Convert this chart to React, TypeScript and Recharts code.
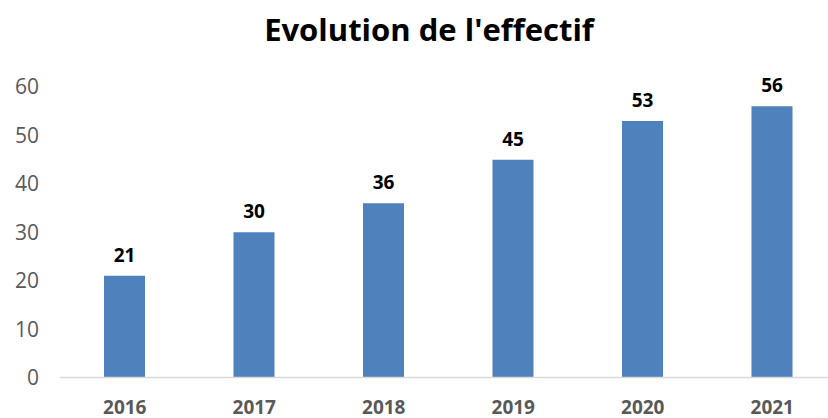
import { BarChart, Bar, XAxis, YAxis, LabelList } from "recharts";

const years = ["2016", "2017", "2018", "2019", "2020", "2021"];
const effectif = [21, 30, 36, 45, 53, 56];
const yTicks = [0, 10, 20, 30, 40, 50, 60];

const data = years.map((year, i) => ({ year, effectif: effectif[i] }));

export default function App() {
  return (
    <div
      style={{
        position: "absolute",
        left: 0,
        top: 0,
        width: 828,
        height: 418,
        overflow: "hidden",
        background: "#fff",
        fontFamily: "'Open Sans', sans-serif",
      }}
    >
      <div
        style={{
          position: "absolute",
          left: 0,
          top: 7,
          width: 858,
          textAlign: "center",
          fontSize: 31,
          fontWeight: 700,
          color: "#000",
          lineHeight: "44px",
        }}
      >
        Evolution de l'effectif
      </div>
      <BarChart
        width={840}
        height={418}
        data={data}
        margin={{ top: 87, right: 3, left: 0, bottom: 0 }}
        barSize={41}
      >
        <XAxis
          dataKey="year"
          height={40.5}
          axisLine={{ stroke: "#d9d9d9", strokeWidth: 1.5 }}
          tickLine={false}
          tickMargin={17}
          tick={{ fontSize: 19, fontWeight: 700, fill: "#595959" }}
        />
        <YAxis
          width={60}
          domain={[0, 60]}
          ticks={yTicks}
          axisLine={false}
          tickLine={false}
          tickMargin={15}
          tick={{ fontSize: 21, fill: "#595959" }}
        />
        <Bar dataKey="effectif" fill="#4f81bd" isAnimationActive={false}>
          <LabelList
            dataKey="effectif"
            position="top"
            offset={14}
            style={{ fontSize: 19, fontWeight: 700, fill: "#000" }}
          />
        </Bar>
      </BarChart>
    </div>
  );
}
